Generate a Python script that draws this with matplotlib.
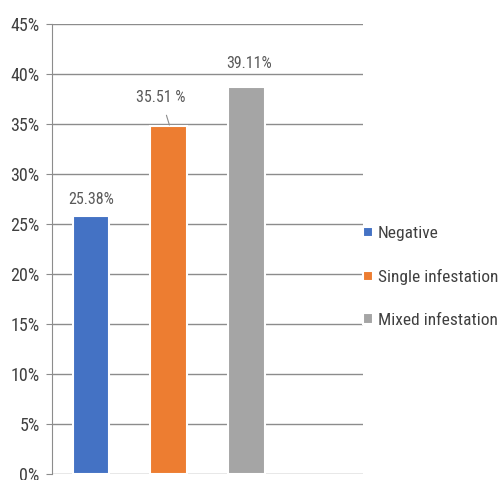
import matplotlib
matplotlib.use('Agg')
from matplotlib import pyplot as plt
from matplotlib import font_manager

# Data
categories = ['Negative', 'Single infestation', 'Mixed infestation']
values = [25.8, 34.8, 38.75]              # bar heights as drawn (%)
labels = ['25.38%', '35.51 %', '39.11%']  # data label text
colors = ['#4472C4', '#ED7D31', '#A5A5A5']

# pick a narrow font if there is one
names = {f.name for f in font_manager.fontManager.ttflist}
font = 'DejaVu Sans'
for f in ['Roboto Condensed', 'Archivo Narrow', 'Open Sans Condensed', 'Liberation Sans Narrow', 'Carlito']:
    if f in names:
        font = f
        break
plt.rcParams['font.family'] = [font, 'DejaVu Sans']

fig = plt.figure(figsize=(5.04, 4.8), dpi=100)
ax = fig.add_axes([52 / 504, 1 - 474 / 480, (363 - 52) / 504, 450 / 480])

x = range(len(categories))
ax.bar(x, values, width=0.47, color=colors, edgecolor='white',
       linewidth=1.5, label=categories, zorder=3)

ax.set_xlim(-0.5, 3.5)
ax.set_ylim(0, 45)
ax.set_yticks(range(0, 46, 5))
ax.set_yticklabels(['%d%%' % v for v in range(0, 46, 5)], fontsize=13, color='#404040')
ax.set_xticks([])
ax.yaxis.grid(True, color='#8c8c8c', linewidth=1, zorder=0)
ax.tick_params(axis='y', length=4, color='#8c8c8c', pad=5)
for s in ['top', 'right', 'bottom']:
    ax.spines[s].set_visible(False)
ax.spines['left'].set_color('#8c8c8c')

# data labels
ax.text(0, values[0] + 1.6, labels[0], ha='center', va='center', fontsize=11.5, color='#595959')
ax.annotate(labels[1], xy=(1.01, values[1] + 0.1), xytext=(0.9, values[1] + 2.9),
            ha='center', va='center', fontsize=11.5, color='#595959',
            arrowprops=dict(arrowstyle='-', color='#8c8c8c', lw=0.8, shrinkA=6, shrinkB=0))
ax.text(2.04, values[2] + 2.35, labels[2], ha='center', va='center', fontsize=11.5, color='#595959')

leg = ax.legend(loc='center left', bbox_to_anchor=(1.0, 0.438), frameon=False,
                fontsize=12.5, handlelength=0.55, handleheight=0.55, handletextpad=0.3,
                labelspacing=1.6, borderpad=0, borderaxespad=0)
for t in leg.get_texts():
    t.set_color('#404040')

fig.savefig('out.png', dpi=100)
